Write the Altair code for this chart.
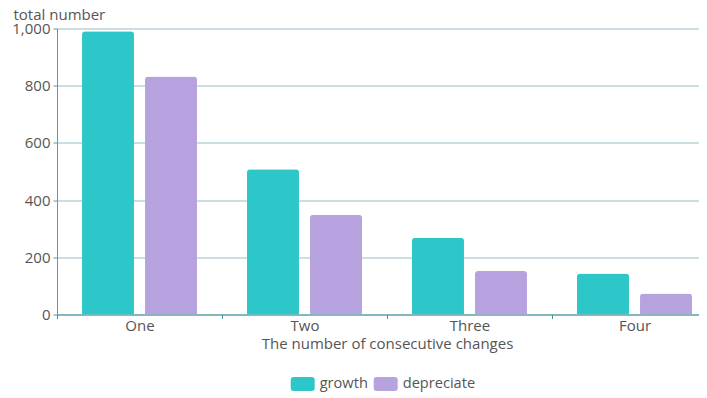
import altair as alt
import pandas as pd

categories = ["One", "Two", "Three", "Four"]
growth = [990, 508, 268, 143]
depreciate = [832, 349, 152, 73]
series = ["growth", "depreciate"]
colors = ["#2ec7c9", "#b6a2de"]
y_ticks = [0, 200, 400, 600, 800, 1000]

rows = []
for i, c in enumerate(categories):
    rows.append({"cat": c, "series": "growth", "value": growth[i]})
    rows.append({"cat": c, "series": "depreciate", "value": depreciate[i]})
df = pd.DataFrame(rows)

FONT = "Open Sans"
swatch = ("M -0.75 -0.583 L 0.75 -0.583 Q 1 -0.583 1 -0.333 L 1 0.333 "
          "Q 1 0.583 0.75 0.583 L -0.75 0.583 Q -1 0.583 -1 0.333 "
          "L -1 -0.333 Q -1 -0.583 -0.75 -0.583 Z")

chart = alt.Chart(df).mark_bar(cornerRadiusEnd=3).encode(
    x=alt.X("cat:N", sort=categories,
            scale=alt.Scale(paddingInner=0, paddingOuter=0),
            axis=alt.Axis(title="The number of consecutive changes",
                          labelAngle=0, tickBand="extent", tickSize=4,
                          tickColor="#3f8f96", domainColor="#3f8f96",
                          domainWidth=1.2, labelPadding=0, grid=False,
                          titleX=330, titleY=28.5, titleBaseline="middle",
                          titleAlign="center", titleAnchor="start")),
    xOffset=alt.XOffset("series:N", sort=series,
                        scale=alt.Scale(paddingInner=0.175, paddingOuter=0.397)),
    y=alt.Y("value:Q",
            scale=alt.Scale(domain=[0, 1000], nice=False),
            axis=alt.Axis(title="total number", values=y_ticks, format=",d",
                          tickSize=4, labelPadding=3,
                          tickColor="#5a9aa0", domainColor="#5a9aa0",
                          gridColor="#92c1c6", gridWidth=1.2,
                          titleAngle=0, titleX=-44, titleY=-9.5,
                          titleAlign="left", titleBaseline="alphabetic")),
    color=alt.Color("series:N", sort=series,
                    scale=alt.Scale(domain=series, range=colors),
                    legend=alt.Legend(title=None, orient="none",
                                      direction="horizontal",
                                      legendX=233.7, legendY=343.5,
                                      symbolType=swatch, symbolSize=576,
                                      symbolStrokeWidth=0, labelOffset=5,
                                      columnPadding=5, padding=0,
                                      labelFontSize=14.6, labelColor="#555",
                                      labelFont=FONT)),
).properties(
    width=660, height=286,
    autosize=alt.AutoSizeParams(type="none"),
    padding={"left": 49, "top": 20.5, "right": -18, "bottom": 79.5},
).configure_view(stroke=None).configure_axis(
    labelFont=FONT, titleFont=FONT, labelFontSize=15, titleFontSize=15,
    labelColor="#555", titleColor="#555", titleFontWeight="normal",
)

chart.save("out.html", embed_options={"renderer": "svg", "actions": False})
